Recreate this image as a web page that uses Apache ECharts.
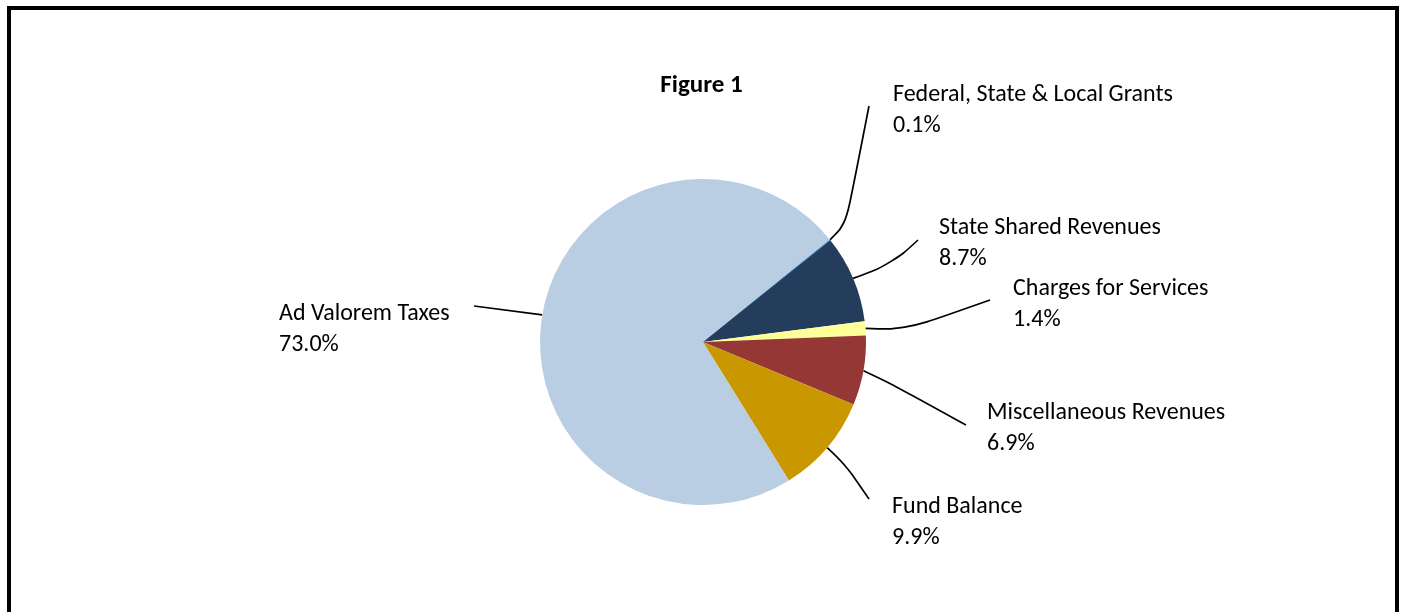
<!DOCTYPE html>
<html>
<head>
<meta charset="utf-8">
<script src="https://cdn.jsdelivr.net/npm/echarts@6/dist/echarts.min.js"></script>
<style>
  html, body { margin: 0; padding: 0; background: #fff; }
  #chart { width: 1403px; height: 612px; }
</style>
</head>
<body>
<div id="chart"></div>
<script>
// Revenue sources, percent of total
const categories = [
  'Federal, State & Local Grants',
  'State Shared Revenues',
  'Charges for Services',
  'Miscellaneous Revenues',
  'Fund Balance',
  'Ad Valorem Taxes'
];
const shares = [0.1, 8.7, 1.4, 6.9, 9.9, 73.0];
const sliceColors = ['#4F9BE0', '#243D5C', '#FFFF99', '#953735', '#C99800', '#B9CDE3'];

// Label anchors (top-left of each label) and leader-line bends, in pixels
const labelSpots = [
  { x: 893, y: 79,  bends: [[846, 224], [869, 106]] },
  { x: 939, y: 212, bends: [[892, 264], [918, 240]] },
  { x: 1013, y: 273, bends: [[905, 330], [990, 300]] },
  { x: 987, y: 397, bends: [[892, 384], [966, 425]] },
  { x: 892, y: 491, bends: [[845, 464], [869, 499]] },
  { x: 279, y: 298, bends: [[474, 306]] }
];

const FONT = 'Carlito, Lato, "Liberation Sans", sans-serif';

const chart = echarts.init(document.getElementById('chart'), null, { renderer: 'canvas' });

chart.setOption({
  animation: false,
  backgroundColor: '#ffffff',
  title: {
    text: 'Figure 1',
    left: 'center',
    top: 68,
    textStyle: { fontFamily: FONT, fontSize: 25, fontWeight: 'bold', color: '#000' }
  },
  graphic: [{
    type: 'rect',
    shape: { x: 9, y: 8, width: 1388, height: 640 },
    style: { fill: 'none', stroke: '#000', lineWidth: 4 },
    silent: true
  }],
  series: [{
    type: 'pie',
    center: [703, 342],
    radius: [0, 163],
    startAngle: 39,
    clockwise: true,
    avoidLabelOverlap: false,
    data: categories.map((name, i) => ({
      name,
      value: shares[i],
      // the sliver-thin grants slice gets an outline in its own colour so it stays visible
      itemStyle: i === 0
        ? { color: sliceColors[i], borderColor: sliceColors[i], borderWidth: 1 }
        : { color: sliceColors[i], borderWidth: 0 }
    })),
    label: {
      show: true,
      formatter: p => p.name + '\n' + p.value.toFixed(1) + '%',
      fontFamily: FONT,
      fontSize: 24,
      lineHeight: 31,
      color: '#000',
      align: 'left'
    },
    labelLine: {
      show: true,
      smooth: 0.4,
      lineStyle: { color: '#000', width: 1.7 }
    },
    labelLayout: function (params) {
      const spot = labelSpots[params.dataIndex];
      const start = params.labelLinePoints ? params.labelLinePoints[0] : spot.bends[0];
      return {
        x: spot.x,
        y: spot.y,
        align: 'left',
        verticalAlign: 'top',
        labelLinePoints: [start].concat(spot.bends)
      };
    }
  }]
});
</script>
</body>
</html>
